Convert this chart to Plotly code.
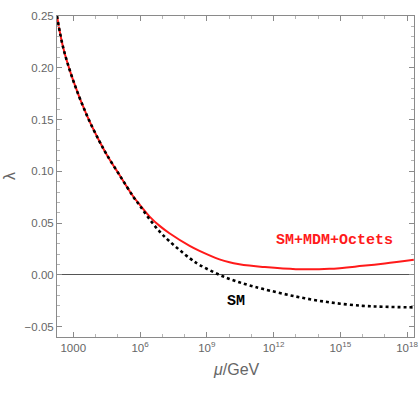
import plotly.graph_objects as go

# Renormalization scale mu (GeV) and quartic coupling lambda
mu_sm = [1.86e2, 3.5e2, 1.0e3, 4.0e3, 1.5e4, 3.2e4, 1.3e5, 4.9e5, 1.0e6, 2.7e6, 7.6e6,
         2.1e7, 1.7e8, 4.7e8, 3.7e9, 1.05e10, 2.9e10, 8.1e10, 3.2e11, 1.0e13, 3.2e14,
         1.0e16, 1.0e17, 2.0e18]
lam_sm = [0.25, 0.2198, 0.1876, 0.1545, 0.1290, 0.1161, 0.0952, 0.0757, 0.0666, 0.0536, 0.0418,
          0.0325, 0.0161, 0.0097, 0.0, -0.0039, -0.0072, -0.0101, -0.0135, -0.0209, -0.0265,
          -0.0299, -0.0308, -0.0314]

mu_new = [1.86e2, 3.5e2, 1.0e3, 4.0e3, 1.5e4, 3.2e4, 1.3e5, 4.9e5, 1.0e6, 2.7e6, 7.6e6,
          2.1e7, 1.7e8, 4.7e8, 3.7e9, 1.05e10, 2.9e10, 8.1e10, 3.2e11, 1.0e13, 3.2e14,
          1.0e16, 1.0e17, 2.0e18]
lam_new = [0.25, 0.2198, 0.1876, 0.1545, 0.1290, 0.1161, 0.0952, 0.0759, 0.0674, 0.0563, 0.0473,
           0.0402, 0.0280, 0.0232, 0.0150, 0.0121, 0.0103, 0.0090, 0.0077, 0.0055, 0.0058,
           0.0087, 0.0110, 0.0145]

x_tickvals = [1e3, 1e6, 1e9, 1e12, 1e15, 1e18]
x_ticktext = ["1000", "10<sup>6</sup>", "10<sup>9</sup>", "10<sup>12</sup>", "10<sup>15</sup>", "10<sup>18</sup>"]
x_minor = [10.0 ** k for k in range(3, 19)]
y_tickvals = [-0.05, 0.0, 0.05, 0.10, 0.15, 0.20, 0.25]
y_ticktext = ["\u22120.05", "0.00", "0.05", "0.10", "0.15", "0.20", "0.25"]

fig = go.Figure()
fig.add_trace(go.Scatter(x=mu_new, y=lam_new, mode="lines",
                         line=dict(color="#ff1a1a", width=2, shape="spline", smoothing=1.0),
                         showlegend=False))
fig.add_trace(go.Scatter(x=mu_sm, y=lam_sm, mode="lines",
                         line=dict(color="black", width=2.6, dash="3px,3px", shape="spline", smoothing=1.0),
                         showlegend=False))

fig.add_annotation(x=14.72, y=0.0331, xref="x", yref="y", text="<b>SM+MDM+Octets</b>",
                   showarrow=False, xanchor="center", yanchor="middle",
                   font=dict(family="Liberation Mono", size=15, color="#ff1a1a"))
fig.add_annotation(x=10.29, y=-0.0258, xref="x", yref="y", text="<b>SM</b>",
                   showarrow=False, xanchor="center", yanchor="middle",
                   font=dict(family="Liberation Mono", size=15, color="black"))

W, H = 420, 396
L, R, T, B = 57, 6, 16, 59
PX0, PX1, PY0, PY1 = L, W - R, T, H - B   # plot area in window pixels
pw, ph = PX1 - PX0, PY1 - PY0

def px(x):
    return (x - PX0) / pw

def py(y):
    return (PY1 - y) / ph

fig.add_annotation(x=px(236), y=py(370), xref="paper", yref="paper", text="<i>\u03bc</i>/GeV",
                   showarrow=False, xanchor="center", yanchor="middle",
                   font=dict(size=16, color="#666666"))
fig.add_annotation(x=px(9), y=py(176), xref="paper", yref="paper", text="\u03bb", textangle=-90,
                   showarrow=False, xanchor="center", yanchor="middle",
                   font=dict(size=16, color="#666666"))

axis_col = "#8a8a8a"
fig.update_layout(
    width=W, height=H,
    margin=dict(l=L, r=R, t=T, b=B, autoexpand=False),
    paper_bgcolor="white", plot_bgcolor="white",
    font=dict(family="Liberation Sans", size=11.5, color="#666666"),
    xaxis=dict(type="log", range=[2.27, 18.31], tickvals=x_tickvals, ticktext=x_ticktext,
               ticks="inside", ticklen=5, tickcolor=axis_col, showgrid=False, zeroline=False,
               showline=True, linecolor=axis_col, linewidth=1, mirror="ticks", automargin=False,
               minor=dict(tickvals=x_minor, ticks="inside", ticklen=3, tickcolor="#b5b5b5"),
               tickfont=dict(size=11.5, color="#666666")),
    yaxis=dict(range=[-0.06, 0.25], tickvals=y_tickvals, ticktext=y_ticktext,
               ticks="inside", ticklen=5, tickcolor=axis_col, showgrid=False,
               zeroline=True, zerolinecolor="#555555", zerolinewidth=1,
               showline=True, linecolor=axis_col, linewidth=1, mirror="ticks", automargin=False,
               minor=dict(dtick=0.01, ticks="inside", ticklen=3, tickcolor="#b5b5b5"),
               tickfont=dict(size=11.5, color="#666666")),
)

fig.write_html("out.html", post_script="document.body.style.margin='0px';",
               config={"displayModeBar": False})
